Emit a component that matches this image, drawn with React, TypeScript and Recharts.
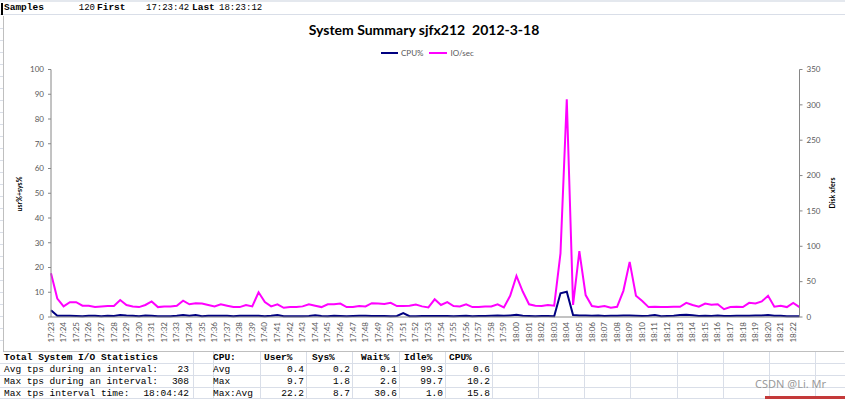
import React from "react";
import { LineChart, Line, XAxis, YAxis } from "recharts";

// one label per minute, samples are every 30s (17:23:42 .. 18:23:12)
const tickLabels = [
  "17:23", "17:24", "17:25", "17:26", "17:27", "17:28", "17:29", "17:30", "17:31", "17:32",
  "17:33", "17:34", "17:35", "17:36", "17:37", "17:38", "17:39", "17:40", "17:41", "17:42",
  "17:43", "17:44", "17:45", "17:46", "17:47", "17:48", "17:49", "17:50", "17:51", "17:52",
  "17:53", "17:54", "17:55", "17:56", "17:57", "17:58", "17:59", "18:00", "18:01", "18:02",
  "18:03", "18:04", "18:05", "18:06", "18:07", "18:08", "18:09", "18:10", "18:11", "18:12",
  "18:13", "18:14", "18:15", "18:16", "18:17", "18:18", "18:19", "18:20", "18:21", "18:22",
];

const cpuPct = [
  2.7, 0.5, 0.5, 0.5, 0.4, 0.3, 0.5, 0.5, 0.3, 0.5,
  0.4, 0.8, 0.6, 0.5, 0.3, 0.6, 0.5, 0.3, 0.3, 0.3,
  0.5, 0.8, 0.5, 0.8, 0.3, 0.5, 0.5, 0.5, 0.5, 0.3,
  0.5, 0.5, 0.5, 0.5, 0.3, 0.5, 0.8, 0.3, 0.3, 0.3,
  0.3, 0.4, 0.7, 0.4, 0.3, 0.5, 0.4, 0.3, 0.4, 0.5,
  0.5, 0.4, 0.4, 0.4, 0.3, 0.4, 1.6, 0.3, 0.3, 0.4,
  0.4, 0.4, 0.4, 0.4, 0.3, 0.4, 0.5, 0.3, 0.4, 0.4,
  0.5, 0.6, 0.5, 0.6, 0.9, 0.5, 0.4, 0.3, 0.4, 0.4,
  0.3, 9.6, 10.2, 0.8, 0.6, 0.6, 0.5, 0.6, 0.4, 0.5,
  0.5, 0.6, 0.6, 0.5, 0.4, 0.5, 0.8, 0.3, 0.4, 0.5,
  0.8, 0.9, 0.7, 0.4, 0.5, 0.4, 0.6, 0.4, 0.4, 0.5,
  0.5, 0.5, 0.6, 0.6, 0.8, 0.5, 0.5, 0.3, 0.3, 0.3,
];

const ioPerSec = [
  62, 26, 15, 21, 21, 16, 16, 14, 15, 15.5,
  15.5, 24, 17, 15, 14, 17, 22, 14, 15, 15,
  16, 23, 18, 19.5, 19, 17, 15, 18, 16, 14,
  14, 17, 15, 35, 21, 15, 18, 13, 14, 14,
  15, 18, 16, 14, 18, 18, 19, 14, 14, 15.5,
  15, 19.5, 19, 18.5, 20, 15.5, 15.5, 16, 17.5, 15,
  13.5, 25, 17, 21, 15.5, 15, 18, 14, 14, 15,
  15, 18, 13.5, 30, 58, 36, 18, 16, 15.5, 17,
  16, 90, 308, 17, 93, 31, 15.5, 14, 15.5, 13,
  14.5, 37, 78, 30, 22.6, 14, 14.5, 14, 14, 14.5,
  14.5, 20, 17, 14.5, 19, 17.5, 18, 11, 14, 14.5,
  14, 20, 19, 22, 30, 14.5, 16, 14, 20, 14,
];

const leftTicks = [0, 10, 20, 30, 40, 50, 60, 70, 80, 90, 100];
const rightTicks = [0, 50, 100, 150, 200, 250, 300, 350];

const summaryRows = [
  ["Total System I/O Statistics", "", "CPU:", "User%", "Sys%", "Wait%", "Idle%", "CPU%"],
  ["Avg tps during an interval:", "23", "Avg", "0.4", "0.2", "0.1", "99.3", "0.6"],
  ["Max tps during an interval:", "308", "Max", "9.7", "1.8", "2.6", "99.7", "10.2"],
  ["Max tps interval time:", "18:04:42", "Max:Avg", "22.2", "8.7", "30.6", "1.0", "15.8"],
];

const data = cpuPct.map((v, i) => ({ i, cpu: v, io: ioPerSec[i] }));
const xTicks = data.filter((d) => d.i % 2 === 0).map((d) => d.i);

const AXIS = "#868686";
const LABEL = "#595959";
const GRID = "#d9dee8";
const CELL_FONT = "'Liberation Mono', 'DejaVu Sans Mono', monospace";

const TimeTick = ({ x, y, payload }: any) => (
  <text
    x={x}
    y={y}
    dy="0.33em"
    transform={`rotate(-90, ${x}, ${y})`}
    textAnchor="end"
    fontSize={8}
    fill={LABEL}
    fontFamily="Lato, sans-serif"
  >
    {tickLabels[payload.value / 2]}
  </text>
);

// left edge for text cells, right edge for number cells
const cellLeft = [4, 0, 213, 264, 312, 361, 404, 449];
const cellRight = [0, 189, 0, 304, 350, 397, 443, 490];

export default function App() {
  return (
    <div
      style={{
        position: "absolute",
        left: 0,
        top: 0,
        width: 845,
        height: 399,
        overflow: "hidden",
        background: "#fff",
        fontFamily: "Lato, sans-serif",
      }}
    >
      {/* sheet column header strip + first row */}
      <div style={{ position: "absolute", left: 0, top: 0, width: 845, height: 2, background: "#e4e8ee" }} />
      <div style={{ position: "absolute", left: 0, top: 14, width: 845, height: 1, background: GRID }} />
      <div style={{ position: "absolute", left: 1, top: 3, width: 2, height: 12, background: "#000" }} />
      {[
        { t: "Samples", x: 4, b: true },
        { t: "First", x: 97, b: true },
        { t: "17:23:42", x: 146, b: false },
        { t: "Last", x: 192, b: true },
        { t: "18:23:12", x: 219, b: false },
      ].map((c) => (
        <div
          key={c.t}
          style={{
            position: "absolute",
            left: c.x,
            top: 2,
            fontFamily: CELL_FONT,
            fontSize: c.b ? 9.5 : 9,
            fontWeight: c.b ? 700 : 400,
            lineHeight: "12px",
            whiteSpace: "pre",
          }}
        >
          {c.t}
        </div>
      ))}
      <div
        style={{
          position: "absolute",
          right: 845 - 95,
          top: 2,
          fontFamily: CELL_FONT,
          fontSize: 9,
          lineHeight: "12px",
        }}
      >
        120
      </div>

      {/* chart border */}
      <div
        style={{
          position: "absolute",
          left: 3,
          top: 16,
          width: 840,
          height: 335,
          borderLeft: "1px solid #bfbfbf",
          borderBottom: "1px solid #bfbfbf",
        }}
      />
      {[28, 40, 52, 64, 76, 88, 100, 112, 124, 136, 148, 160, 172, 184, 196, 208, 220, 232, 244, 256, 268, 280, 292, 304, 316, 328, 340].map((y) => (
        <div key={y} style={{ position: "absolute", left: 0, top: y, width: 3, height: 1, background: GRID }} />
      ))}

      <div style={{ position: "absolute", left: 0, top: 0 }}>
        <LineChart
          width={845}
          height={399}
          data={data}
          margin={{ top: 69.5, right: 5.5, bottom: 52, left: 11 }}
        >
          <XAxis
            dataKey="i"
            type="number"
            domain={[0, 119]}
            ticks={xTicks}
            interval={0}
            height={30}
            tick={<TimeTick />}
            tickLine={false}
            tickSize={0}
            tickMargin={5}
            axisLine={{ stroke: AXIS }}
          />
          <YAxis
            yAxisId="cpu"
            domain={[0, 100]}
            ticks={leftTicks}
            width={40}
            tick={{ fontSize: 8, fill: LABEL, fontFamily: "Lato, sans-serif" }}
            tickSize={3}
            tickMargin={4}
            tickLine={{ stroke: AXIS }}
            axisLine={{ stroke: AXIS }}
            interval={0}
          />
          <YAxis
            yAxisId="io"
            orientation="right"
            domain={[0, 350]}
            ticks={rightTicks}
            width={40}
            tick={{ fontSize: 8, fill: LABEL, fontFamily: "Lato, sans-serif", textAnchor: "start" }}
            tickSize={3}
            tickMargin={4}
            tickLine={{ stroke: AXIS }}
            axisLine={{ stroke: AXIS }}
            interval={0}
          />
          <Line
            yAxisId="cpu"
            dataKey="cpu"
            name="CPU%"
            type="linear"
            stroke="#000080"
            strokeWidth={2}
            dot={false}
            isAnimationActive={false}
          />
          <Line
            yAxisId="io"
            dataKey="io"
            name="IO/sec"
            type="linear"
            stroke="#ff00ff"
            strokeWidth={2}
            dot={false}
            isAnimationActive={false}
          />
        </LineChart>
      </div>

      {/* title, legend, axis titles */}
      <div
        style={{
          position: "absolute",
          left: 3,
          width: 842,
          top: 21,
          textAlign: "center",
          fontSize: 14,
          fontWeight: 700,
          color: "#000",
          whiteSpace: "pre",
          lineHeight: "18px",
        }}
      >
        {"System Summary sjfx212  2012-3-18"}
      </div>
      <div
        style={{
          position: "absolute",
          left: 381,
          top: 47,
          display: "flex",
          alignItems: "center",
          fontSize: 8,
          color: LABEL,
          lineHeight: "12px",
        }}
      >
        <span style={{ display: "inline-block", width: 17, height: 2, background: "#000080", marginRight: 3 }} />
        <span style={{ marginRight: 6 }}>CPU%</span>
        <span style={{ display: "inline-block", width: 18, height: 2, background: "#ff00ff", marginRight: 3 }} />
        <span>IO/sec</span>
      </div>
      <div
        style={{
          position: "absolute",
          left: 19,
          top: 194,
          transform: "translate(-50%, -50%) rotate(-90deg)",
          fontSize: 7,
          fontWeight: 700,
          whiteSpace: "nowrap",
        }}
      >
        usr%+sys%
      </div>
      <div
        style={{
          position: "absolute",
          left: 832,
          top: 193,
          transform: "translate(-50%, -50%) rotate(-90deg)",
          fontSize: 7,
          fontWeight: 700,
          whiteSpace: "nowrap",
        }}
      >
        Disk xfers
      </div>

      {/* summary table below the chart */}
      <div style={{ position: "absolute", left: 0, top: 352, width: 845, height: 47, background: "#fff" }}>
        {[11, 23, 35, 46].map((y) => (
          <div key={y} style={{ position: "absolute", left: 0, top: y, width: 845, height: 1, background: GRID }} />
        ))}
        {[193, 213, 260, 306, 352, 399, 445, 492, 538, 584, 630, 677, 723, 769, 815].map((x) => (
          <div key={x} style={{ position: "absolute", left: x, top: 0, width: 1, height: 47, background: GRID }} />
        ))}
        {summaryRows.map((row, r) =>
          row.map((cell, c) => {
            if (!cell) return null;
            const header = r === 0;
            const rightAligned = !header && c !== 0 && c !== 2;
            const style: React.CSSProperties = {
              position: "absolute",
              top: r * 12,
              fontFamily: CELL_FONT,
              fontSize: 9.5,
              lineHeight: "11px",
              fontWeight: header ? 700 : 400,
              whiteSpace: "pre",
            };
            if (rightAligned) style.right = 845 - cellRight[c];
            else style.left = cellLeft[c];
            return (
              <div key={`${r}-${c}`} style={style}>
                {cell}
              </div>
            );
          })
        )}
        <div
          style={{
            position: "absolute",
            left: 755,
            top: 25,
            fontSize: 11,
            color: "#9a9a9a",
            fontFamily: "'Noto Sans', sans-serif",
            lineHeight: "14px",
          }}
        >
          CSDN @Li. Mr
        </div>
        <div style={{ position: "absolute", left: 765, top: 44, width: 80, height: 3, background: "#c43a3a" }} />
      </div>
    </div>
  );
}
